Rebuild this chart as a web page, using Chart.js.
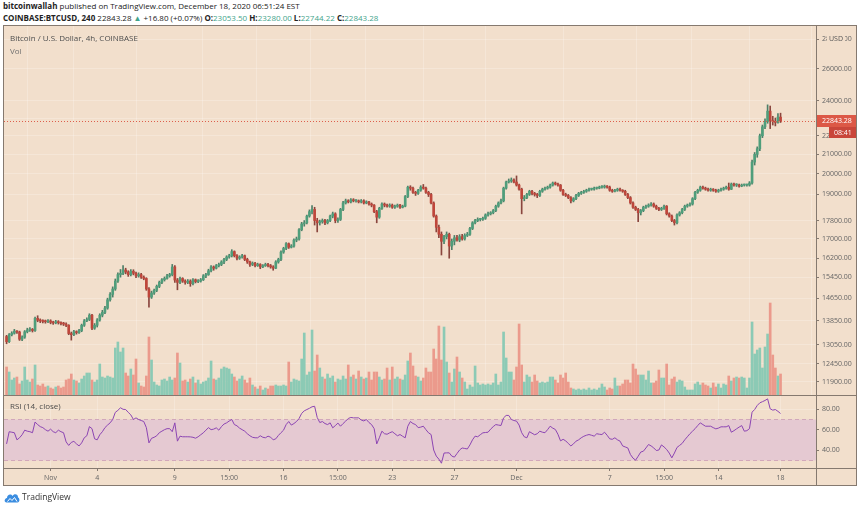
<!DOCTYPE html>
<html>
<head>
<meta charset="utf-8">
<title>BTCUSD 4h</title>
<script src="https://cdn.jsdelivr.net/npm/chart.js@4/dist/chart.umd.min.js"></script>
<style>
  body { margin: 0; width: 860px; height: 509px; background: #fff; position: relative; overflow: hidden; font-family: 'Open Sans', sans-serif; }
  .hdr { position: absolute; left: 3px; font-size: 8px; line-height: 10px; color: #222; white-space: nowrap; }
  .up { color: #3fa58c; }
  #frame { position: absolute; left: 3px; top: 25px; width: 852px; height: 459px; border: 1px solid #85796f; background: #f2dfcc; }
  canvas { position: absolute; left: 4px; }
  .ln { position: absolute; background: #85796f; }
  .lbl { position: absolute; left: 10px; font-size: 8px; line-height: 10px; color: #4d4d4d; white-space: nowrap; }
</style>
</head>
<body>
<div class="hdr" style="top:1px"><b>bitcoinwallah</b> published on TradingView.com, December 18, 2020 06:51:24 EST</div>
<div class="hdr" style="top:13px"><b>COINBASE:BTCUSD, 240</b> 22843.28 <span class="up">&#9650;</span> +16.80 (+0.07%) <b>O:</b><span class="up">23053.50</span> <b>H:</b><span class="up">23280.00</span> <b>L:</b><span class="up">22744.22</span> <b>C:</b><span class="up">22843.28</span></div>

<div id="frame"></div>
<canvas id="price" width="852" height="369" style="top:26px"></canvas>
<canvas id="rsi" width="852" height="89" style="top:396px"></canvas>
<div class="ln" style="left:4px;top:395px;width:852px;height:1px"></div>
<div class="ln" style="left:4px;top:468px;width:852px;height:1px"></div>
<div class="ln" style="left:816px;top:26px;width:1px;height:459px"></div>

<div class="lbl" style="top:33px">Bitcoin / U.S. Dollar, 4h, COINBASE</div>
<div class="lbl" style="top:46px;color:#707070">Vol</div>
<div class="lbl" style="top:401px">RSI (14, close)</div>

<svg style="position:absolute;left:4px;top:492px;display:block" width="16" height="11" viewBox="0 0 32 22"><path d="M5 21 C0 21 0 13 6 12 C6 5 14 3 17 8 C20 2 29 4 28 11 C32 12 32 21 27 21 Z" fill="#3b8de0"/><path d="M7 19 L12 13 L16 17 L21 11 L26 19" stroke="#fff" stroke-width="2" fill="none"/></svg>
<div style="position:absolute;left:22px;top:491px;font-size:8.5px;line-height:12px;color:#333">TradingView</div>

<script>
// 4h candles, Coinbase BTC/USD, Oct 29 07:00 to Dec 18 03:00 (EST)
var firstOpen = 13320

var closes = [
  13150, 13380, 13430, 13500, 13470,                 // Oct 29
  13230, 13300, 13480, 13540, 13560, 13520,          // Oct 30
  13940, 13870, 13850, 13830, 13820, 13850,          // Oct 31
  13800, 13780, 13820, 13790, 13760, 13740,          // Nov 1
  13700, 13420, 13380, 13480, 13450, 13520,
  13700, 13850, 13900, 14050, 13600, 13700,
  13880, 14050, 14150, 14300, 14600, 14800,
  15000, 15300, 15550, 15600, 15730, 15650,
  15550, 15680, 15600, 15500, 15550, 15450,
  15400, 15000, 14700, 14850, 14950, 15100,
  15250, 15350, 15400, 15500, 15550, 15850,
  15340, 15250, 15400, 15300, 15250, 15300,          // Nov 9
  15200, 15350, 15280, 15300, 15350, 15500,
  15550, 15700, 15850, 15800, 15900, 15950,
  16050, 16150, 16250, 16300, 16470, 16300,
  16200, 16250, 16300, 16150, 16050, 15950,
  16000, 15900, 15950, 15850, 15900, 15950,
  15900, 15850, 15800, 16050, 16150, 16450,
  16600, 16800, 16650, 16700, 16950, 17000,          // Nov 16
  17400, 17650, 17700, 18000, 18200, 18300,
  17800, 17700, 17750, 17800, 17700, 17800,
  18000, 18100, 17800, 17850, 18300, 18600,
  18700, 18650, 18750, 18700, 18700, 18650,
  18700, 18600, 18650, 18550, 18500, 18200,
  17950, 18350, 18550, 18500, 18450, 18500,
  18400, 18450, 18500, 18400, 18450, 18900,          // Nov 23
  19350, 19300, 19100, 19050, 19200, 19350,
  19300, 19100, 19000, 18600, 18000, 17500,
  17200, 16900, 17100, 17200, 16700, 16900,
  17050, 16950, 17100, 17000, 17150, 17200,
  17450, 17700, 17800, 17850, 17850, 17900,
  18050, 18100, 18150, 18250, 18450, 18600,
  18700, 19300, 19600, 19650, 19700, 19600,          // Nov 30
  19450, 19250, 18800, 18850, 19000, 19150,          // Dec 1
  19050, 19000, 18950, 19150, 19250, 19300,
  19350, 19450, 19550, 19500, 19450, 19200,
  19000, 18950, 18850, 18700, 18800, 18950,
  19050, 19100, 19150, 19200, 19250, 19250,
  19300, 19300, 19350, 19350, 19400, 19350,
  19200, 19150, 19200, 19250, 19200, 19150,          // Dec 7
  19000, 18850, 18600, 18400, 18300, 18150,
  18250, 18400, 18450, 18500, 18550, 18450,
  18350, 18300, 18350, 18450, 18100, 18000,
  17800, 17700, 18050, 18150, 18300, 18450,
  18500, 18550, 18800, 19100, 19200, 19350,
  19300, 19250, 19200, 19250, 19200, 19150,
  19200, 19250, 19300, 19350, 19250, 19500,          // Dec 14
  19450, 19450, 19400, 19450, 19450, 19450,
  19550, 20600, 21000, 21300, 22000, 22500,
  22800, 23400, 22850, 22800, 22750, 23053,
  22843.28                                           // Dec 18
]

var highs = [
  13360, 13420, 13480, 13560, 13520,
  13500, 13340, 13520, 13600, 13620, 13590,
  13980, 14030, 13920, 13890, 13880, 13900,
  13890, 13840, 13870, 13860, 13820, 13800,
  13780, 13720, 13470, 13530, 13510, 13560,
  13740, 13900, 13960, 14100, 14080, 13760,
  13930, 14100, 14220, 14360, 14660, 14870,
  15080, 15380, 15620, 15750, 15900, 15800,
  15700, 15750, 15740, 15650, 15620, 15600,
  15500, 15430, 15050, 14920, 15000, 15150,
  15300, 15400, 15460, 15560, 15600, 15950,
  15900, 15400, 15450, 15430, 15350, 15360,
  15350, 15400, 15380, 15360, 15400, 15550,
  15600, 15760, 15900, 15890, 15950, 16000,
  16100, 16200, 16300, 16360, 16550, 16500,
  16350, 16300, 16360, 16330, 16200, 16080,
  16050, 16030, 16000, 15980, 15940, 16000,
  15990, 15950, 15900, 16100, 16200, 16500,
  16650, 16850, 16830, 16760, 17000, 17080,
  17450, 17720, 17800, 18050, 18280, 18480,
  18400, 17900, 17820, 17870, 17850, 17850,
  18050, 18180, 18150, 17920, 18350, 18680,
  18780, 18750, 18800, 18800, 18760, 18740,
  18760, 18750, 18700, 18680, 18600, 18520,
  18260, 18400, 18600, 18600, 18550, 18560,
  18550, 18500, 18550, 18540, 18500, 18950,
  19400, 19420, 19350, 19150, 19250, 19420,
  19480, 19350, 19150, 19050, 18650, 18050,
  17600, 17300, 17150, 17300, 17250, 17000,
  17150, 17150, 17180, 17200, 17220, 17280,
  17500, 17750, 17850, 17920, 17900, 17950,
  18100, 18180, 18200, 18300, 18500, 18650,
  18780, 19350, 19650, 19750, 19800, 19750,
  19900, 19500, 19300, 18950, 19050, 19200,
  19200, 19100, 19050, 19200, 19300, 19350,
  19400, 19500, 19600, 19600, 19550, 19480,
  19250, 19060, 19000, 18900, 18850, 19000,
  19100, 19150, 19200, 19250, 19300, 19300,
  19350, 19350, 19400, 19420, 19450, 19420,
  19400, 19250, 19250, 19300, 19300, 19230,
  19200, 19050, 18900, 18650, 18450, 18350,
  18300, 18450, 18500, 18560, 18620, 18600,
  18500, 18400, 18400, 18500, 18480, 18150,
  18050, 17850, 18100, 18200, 18350, 18500,
  18550, 18600, 18850, 19150, 19250, 19400,
  19400, 19350, 19300, 19300, 19280, 19250,
  19250, 19300, 19350, 19400, 19550, 19550,
  19550, 19520, 19500, 19500, 19500, 19500,
  19620, 20700, 21100, 21400, 22100, 22600,
  22950, 23770, 23700, 23100, 23000, 23250,
  23280
]

var lows = [
  13080, 13120, 13340, 13400, 13420,
  13190, 13180, 13260, 13440, 13490, 13470,
  13490, 13820, 13790, 13780, 13770, 13790,
  13750, 13730, 13750, 13740, 13710, 13690,
  13650, 13380, 13200, 13350, 13400, 13420,
  13480, 13660, 13820, 13860, 13550, 13560,
  13640, 13840, 13990, 14100, 14260, 14550,
  14700, 14950, 15250, 15450, 15550, 15580,
  15480, 15500, 15540, 15430, 15450, 15400,
  15350, 14950, 14330, 14650, 14800, 14900,
  15050, 15200, 15300, 15370, 15450, 15500,
  15250, 14970, 15200, 15250, 15180, 15200,
  15100, 15150, 15230, 15240, 15260, 15320,
  15430, 15520, 15650, 15720, 15770, 15850,
  15900, 15980, 16100, 16200, 16250, 16250,
  16130, 16150, 16200, 16100, 15990, 15870,
  15900, 15850, 15870, 15780, 15820, 15870,
  15850, 15800, 15720, 15780, 16000, 16100,
  16400, 16550, 16600, 16620, 16650, 16880,
  16950, 17350, 17550, 17650, 17950, 18100,
  17600, 17300, 17600, 17680, 17620, 17650,
  17750, 17920, 17700, 17720, 17800, 18250,
  18550, 18600, 18600, 18650, 18640, 18600,
  18600, 18550, 18560, 18500, 18420, 18150,
  17700, 17900, 18300, 18420, 18400, 18400,
  18350, 18350, 18400, 18350, 18370, 18420,
  18850, 19200, 19050, 18950, 19000, 19150,
  19250, 19050, 18900, 18550, 17950, 17300,
  17050, 16330, 16800, 17000, 16200, 16550,
  16750, 16900, 16880, 16950, 16950, 17100,
  17150, 17400, 17650, 17750, 17780, 17800,
  17850, 18000, 18050, 18100, 18200, 18400,
  18550, 18650, 19250, 19550, 19580, 19550,
  19400, 19200, 18100, 18700, 18800, 18950,
  18980, 18920, 18850, 18900, 19100, 19200,
  19250, 19300, 19400, 19450, 19400, 19150,
  18950, 18900, 18800, 18600, 18650, 18750,
  18900, 19000, 19050, 19100, 19150, 19200,
  19200, 19250, 19270, 19300, 19300, 19300,
  19150, 19100, 19120, 19150, 19150, 19100,
  18950, 18800, 18550, 18350, 18250, 17750,
  18050, 18200, 18350, 18400, 18450, 18400,
  18300, 18250, 18250, 18300, 18050, 17950,
  17750, 17600, 17650, 18000, 18100, 18250,
  18400, 18450, 18500, 18750, 19050, 19150,
  19250, 19200, 19150, 19150, 19150, 19100,
  19100, 19150, 19200, 19250, 19200, 19230,
  19400, 19380, 19350, 19370, 19400, 19400,
  19400, 19500, 20450, 20850, 21200, 21900,
  22400, 22700, 22400, 22600, 22550, 22700,
  22744.22
]

var volumes = [
  2800, 2300, 1500, 1700, 1800,
  1100, 1400, 2800, 1500, 1300, 1600,
  3000, 1000, 900, 1100, 800, 900,
  700, 600, 800, 900, 700, 800,
  1500, 1600, 2100, 1500, 1400, 1200,
  1600, 1900, 2200, 2200, 1500, 1300,
  1500, 3100, 1800, 1700, 1900, 1800,
  1700, 4700, 5300, 4300, 4700, 2200,
  1900, 2600, 2000, 3600, 1200, 900,
  800, 1900, 5800, 3500, 1300, 1000,
  900, 1500, 1600, 1400, 1800, 1500,
  1700, 4200, 3200, 1400, 1500, 1300,
  1600, 1800, 1200, 1500, 1100, 1300,
  1400, 1700, 3400, 1600, 1500, 1700,
  2600, 2800, 2700, 2600, 2100, 1800,
  1400, 1600, 1900, 1500, 1200, 1700,
  1000, 800, 600, 900, 500, 700,
  600, 900, 900, 1000, 900, 900,
  1000, 900, 3300, 1300, 1600, 1500,
  1400, 3600, 6200, 2000, 2300, 6500,
  2400, 4000, 2700, 1800, 1600, 2100,
  1700, 1900, 1300, 1600, 1500, 1900,
  1600, 3000, 1800, 2000, 1600, 2400,
  1800, 1600, 1700, 2300, 1500, 2300,
  2300, 1800, 1500, 1600, 2700, 1500,
  2800, 1600, 1800, 1600, 1500, 2000,
  3400, 4200, 2900, 1900, 1800, 1400,
  1700, 2700, 2300, 2300, 4600, 3600,
  6900, 3500, 6800, 3300, 2200, 1300,
  2600, 3800, 2300, 1700, 1300, 600,
  1000, 800, 2900, 1200, 1000, 1100,
  1000, 1100, 1000, 1200, 2100, 1000,
  1300, 6300, 3700, 2300, 2300, 1500,
  2800, 7100, 3000, 1300, 2000, 1800,
  1300, 2000, 1400, 1200, 1300, 1200,
  1300, 1800, 1800, 1500, 1200, 2000,
  1700, 2200, 1300, 700, 600, 500,
  600, 500, 600, 500, 700, 500,
  600, 500, 700, 1100, 800, 500,
  700, 600, 1700, 900, 900, 1100,
  1500, 1500, 1200, 3100, 2600, 2000,
  2000, 2000, 1500, 2400, 1200, 1200,
  1400, 2500, 1700, 1700, 3100, 1000,
  1600, 1800, 1300, 1500, 1400, 800,
  500, 500, 500, 1100, 1300, 1000,
  1200, 1000, 900, 700, 1200, 800,
  1100, 700, 1100, 1000, 1900, 1400,
  1700, 1800, 1700, 1800, 1700, 700,
  1700, 7300, 4100, 4500, 4700, 2700,
  4800, 6100, 9200, 4000, 2700, 1900,
  2100
]

var rsi = [
  46, 58, 57.5, 57, 50,
  52, 55, 59.5, 58.5, 58, 57,
  67.5, 65, 63, 62, 60, 58.5,
  60.5, 58, 57, 59.5, 58, 57,
  48, 44.5, 47.5, 48.5, 46, 44,
  47, 52, 54, 63, 61, 51,
  50, 55, 58, 62, 64.5, 66.7,
  70, 77, 79, 81.5, 80, 79.8,
  77, 74.5, 70, 71.6, 70, 69,
  68, 62, 47, 51.5, 52.5, 54,
  57, 58.5, 60, 61, 61, 58,
  66.7, 48.7, 53.6, 53, 53, 53,
  52.9, 52.5, 51.6, 53, 55, 56.9,
  59.5, 62, 60, 60.5, 61.8, 59.5,
  63, 65.5, 66.7, 68.5, 70, 65,
  63.8, 61.5, 60, 58.5, 56, 54,
  52.5, 52, 52, 54, 52.5, 52,
  53.6, 52.6, 50, 51, 54.3, 57,
  59.5, 65, 68, 64.5, 66, 68,
  71, 76, 78.5, 79.8, 81, 82.5,
  83, 72, 67, 68, 66, 65,
  66.7, 61.8, 64, 66.5, 63.4, 66,
  68.4, 71, 72, 71.6, 71.6, 71.6,
  69.5, 68.6, 70, 67, 65, 61,
  46, 52, 58.5, 56, 55.5, 56.9,
  58, 56, 54, 55.2, 53.5, 52,
  63.4, 68, 66, 65, 62, 62.5,
  63.4, 60, 56.9, 55.2, 40, 34,
  31, 27, 37, 37.2, 37.2, 34,
  33, 36.5, 40, 42, 41.5, 41,
  45, 50, 53.6, 53, 55, 56.9,
  57.2, 57.5, 60.5, 63, 65, 64.5,
  64.1, 71.6, 74, 74, 70, 69,
  68.4, 64.5, 57, 53, 52, 58,
  56.5, 55, 56, 58.5, 57.5, 57,
  60, 63.4, 61.5, 60.2, 55.5, 49,
  50.5, 49, 46.4, 44, 46, 48.7,
  50, 52, 53.5, 54.5, 55.2, 54.5,
  53.6, 56, 55.5, 55.2, 57.5, 54.5,
  51, 50.5, 52, 50, 48.7, 44,
  43, 42, 35.6, 32, 30, 33.9,
  38, 38.8, 42, 45.4, 44, 42.1,
  39.5, 40, 45, 43, 40.5, 37,
  32.3, 37, 42.5, 44.5, 46.5, 50,
  53, 56, 58.5, 61, 64, 66.7,
  65, 63.4, 63.4, 63.4, 62, 60.8,
  61.5, 62.8, 62.8, 62.8, 64, 57.5,
  59, 60.8, 62.5, 64, 58.5, 59,
  61, 77.2, 79.8, 83.8, 86.4, 87.5,
  88.7, 90.3, 80.5, 79.2, 79.8, 78,
  75.9
]

// time axis labels (candle index -> text)
var tickIdx = [17, 35, 65, 86, 107, 128, 149, 173, 197, 233, 254, 275, 299]
var tickText = ['Nov', '4', '9', '15:00', '16', '15:00', '23', '27', 'Dec', '7', '15:00', '14', '18']

var priceTicks = [28000, 26000, 24000, 23000, 22000, 21000, 20000, 19000, 17800, 17000, 16200, 15450, 14650, 13850, 13050, 12450, 11900]
var rsiTicks = [40, 60, 80]
var rsiBands = [30, 70]
var countdown = '08:41'

var bg = '#f2dfcc'
var lineColor = '#85796f'
var tickColor = '#656565'
var gridColor = 'rgba(255,255,255,0.22)'
var xMin = -1
var xMax = 312.7

Chart.defaults.font.family = "'Open Sans', sans-serif"
Chart.defaults.font.size = 7

var opens = closes.map(function (c, i) { return i === 0 ? firstOpen : closes[i - 1] })
var isUp = closes.map(function (c, i) { return c >= opens[i] })
var lastPrice = closes[closes.length - 1]

function setTimeTicks (s) {
  s.ticks = tickIdx.map(function (v) { return { value: v } })
}

var priceTag = {
  id: 'priceTag',
  afterDatasetsDraw: function (chart) {
    var a = chart.chartArea
    var y = Math.round(chart.scales.y.getPixelForValue(lastPrice)) + 0.5
    var ctx = chart.ctx
    ctx.save()
    ctx.strokeStyle = '#de5f4c'
    ctx.lineWidth = 1
    ctx.setLineDash([1, 2])
    ctx.beginPath()
    ctx.moveTo(a.left, y)
    ctx.lineTo(a.right, y)
    ctx.stroke()
    ctx.restore()
  },
  afterDraw: function (chart) {
    var a = chart.chartArea
    var y = Math.round(chart.scales.y.getPixelForValue(lastPrice))
    var top = Math.round(chart.scales.y.getPixelForValue(priceTicks[0]))
    var ctx = chart.ctx
    var w = chart.width
    ctx.save()
    ctx.fillStyle = '#dc5846'
    ctx.fillRect(a.right, y - 6, w - a.right, 12)
    ctx.fillStyle = '#c9463a'
    ctx.fillRect(a.right + 13, y + 6, w - a.right - 13, 11)
    ctx.fillStyle = '#fff'
    ctx.font = "7px 'Open Sans'"
    ctx.textBaseline = 'middle'
    ctx.fillText(lastPrice.toFixed(2), a.right + 6, y)
    ctx.fillText(countdown, a.right + 18, y + 11.5)
    // unit label sits over the top tick
    ctx.fillStyle = bg
    ctx.fillRect(a.right + 11, top - 5, 18, 10)
    ctx.fillStyle = '#555'
    ctx.fillText('USD', a.right + 13, top)
    ctx.restore()
  }
}

var rsiBand = {
  id: 'rsiBand',
  beforeDatasetsDraw: function (chart) {
    var a = chart.chartArea
    var s = chart.scales.y
    var top = Math.round(s.getPixelForValue(rsiBands[1])) + 0.5
    var bot = Math.round(s.getPixelForValue(rsiBands[0])) + 0.5
    var ctx = chart.ctx
    ctx.save()
    ctx.fillStyle = '#e5c9d2'
    ctx.fillRect(a.left, top, a.right - a.left, bot - top)
    ctx.strokeStyle = '#d1a7ba'
    ctx.setLineDash([4, 3])
    ctx.beginPath()
    ctx.moveTo(a.left, top)
    ctx.lineTo(a.right, top)
    ctx.moveTo(a.left, bot)
    ctx.lineTo(a.right, bot)
    ctx.stroke()
    ctx.restore()
  }
}

var volumeSet = {
  type: 'bar',
  data: volumes.map(function (v, i) { return { x: i, y: v } }),
  backgroundColor: isUp.map(function (u) { return u ? '#8ccab5' : '#eb9a8c' }),
  barThickness: 2,
  grouped: false,
  yAxisID: 'v',
  order: 3
}

var wickSet = {
  type: 'bar',
  data: closes.map(function (c, i) { return { x: i, y: [lows[i], highs[i]] } }),
  backgroundColor: isUp.map(function (u) { return u ? '#4d7f68' : '#8a463e' }),
  barThickness: 1,
  grouped: false,
  yAxisID: 'y',
  order: 2
}

var bodySet = {
  type: 'bar',
  data: closes.map(function (c, i) { return { x: i, y: [opens[i], c] } }),
  backgroundColor: isUp.map(function (u) { return u ? '#4f9e7b' : '#bf463b' }),
  barThickness: 2,
  minBarLength: 1,
  grouped: false,
  yAxisID: 'y',
  order: 1
}

var priceChart = new Chart(document.getElementById('price'), {
  type: 'bar',
  data: { datasets: [volumeSet, wickSet, bodySet] },
  options: {
    responsive: false,
    animation: false,
    events: [],
    layout: { padding: 0 },
    plugins: { legend: { display: false }, tooltip: { enabled: false } },
    scales: {
      x: {
        type: 'linear', min: xMin, max: xMax, offset: false,
        afterBuildTicks: setTimeTicks,
        afterFit: function (s) { s.height = 0; s.paddingLeft = 0; s.paddingRight = 0 },
        ticks: { display: false },
        grid: { color: gridColor, drawTicks: false },
        border: { display: false }
      },
      y: {
        type: 'logarithmic', position: 'right', min: 11508, max: 28949,
        afterBuildTicks: function (s) { s.ticks = priceTicks.map(function (v) { return { value: v } }) },
        afterFit: function (s) { s.width = 40; s.paddingTop = 0; s.paddingBottom = 0 },
        ticks: { callback: function (v) { return Number(v).toFixed(2) }, color: tickColor, padding: 3 },
        grid: { color: gridColor, tickLength: 3, tickColor: lineColor },
        border: { display: false }
      },
      v: { display: false, min: 0, max: 36900 }
    }
  },
  plugins: [priceTag]
})

var rsiChart = new Chart(document.getElementById('rsi'), {
  type: 'line',
  data: {
    datasets: [{
      data: rsi.map(function (v, i) { return { x: i, y: v } }),
      borderColor: '#8c45b3',
      borderWidth: 1,
      pointRadius: 0,
      tension: 0
    }]
  },
  options: {
    responsive: false,
    animation: false,
    events: [],
    layout: { padding: 0 },
    plugins: { legend: { display: false }, tooltip: { enabled: false } },
    scales: {
      x: {
        type: 'linear', min: xMin, max: xMax, offset: false,
        afterBuildTicks: setTimeTicks,
        afterFit: function (s) { s.height = 17; s.paddingLeft = 0; s.paddingRight = 0 },
        ticks: {
          autoSkip: false, maxRotation: 0, color: tickColor, padding: 3,
          callback: function (v) { var k = tickIdx.indexOf(v); return k >= 0 ? tickText[k] : '' }
        },
        grid: { color: gridColor, tickLength: 3, tickColor: lineColor },
        border: { display: false }
      },
      y: {
        position: 'right', min: 22.3, max: 93.1,
        afterBuildTicks: function (s) { s.ticks = rsiTicks.map(function (v) { return { value: v } }) },
        afterFit: function (s) { s.width = 40; s.paddingTop = 0; s.paddingBottom = 0 },
        ticks: { callback: function (v) { return Number(v).toFixed(2) }, color: tickColor, padding: 3 },
        grid: { color: gridColor, tickLength: 3, tickColor: lineColor },
        border: { display: false }
      }
    }
  },
  plugins: [rsiBand]
})
</script>
</body>
</html>
